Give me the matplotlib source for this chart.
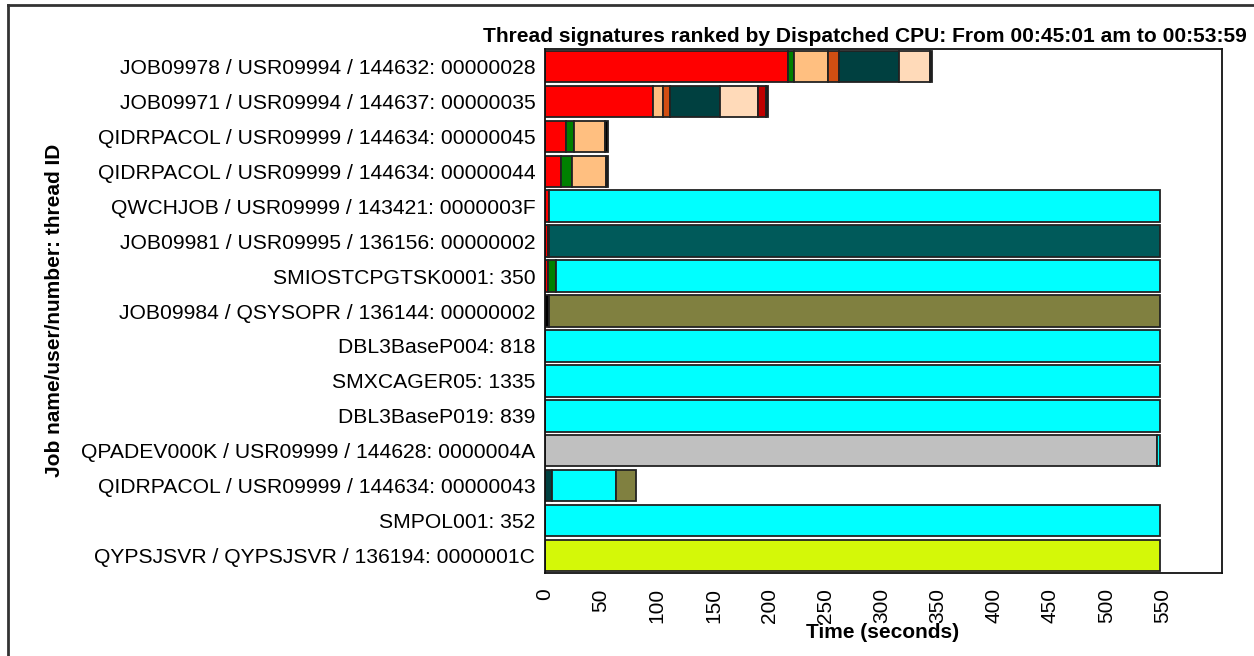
import matplotlib
matplotlib.use("Agg")
import matplotlib.pyplot as plt
from matplotlib.lines import Line2D

plt.rcParams['font.family'] = ['Liberation Sans', 'DejaVu Sans']

categories = [
    "JOB09978 / USR09994 / 144632: 00000028",
    "JOB09971 / USR09994 / 144637: 00000035",
    "QIDRPACOL / USR09999 / 144634: 00000045",
    "QIDRPACOL / USR09999 / 144634: 00000044",
    "QWCHJOB / USR09999 / 143421: 0000003F",
    "JOB09981 / USR09995 / 136156: 00000002",
    "SMIOSTCPGTSK0001: 350",
    "JOB09984 / QSYSOPR / 136144: 00000002",
    "DBL3BaseP004: 818",
    "SMXCAGER05: 1335",
    "DBL3BaseP019: 839",
    "QPADEV000K / USR09999 / 144628: 0000004A",
    "QIDRPACOL / USR09999 / 144634: 00000043",
    "SMPOL001: 352",
    "QYPSJSVR / QYPSJSVR / 136194: 0000001C",
]

# per-row segment durations (seconds) and their colour keys, in stacking order
seg_values = [
    [216, 6, 30, 10, 53, 28, 2],
    [96, 9, 6, 45, 34, 7, 2],
    [19, 7, 27, 3],
    [14, 10, 30, 2],
    [4, 544],
    [2.5, 1, 544.5],
    [2.5, 7, 538.5],
    [4, 544],
    [548],
    [548],
    [548],
    [545, 3],
    [6, 57, 18],
    [548],
    [548],
]
seg_kinds = [
    ["red", "green", "peach", "rust", "teal", "lpeach", "black"],
    ["red", "peach", "rust", "teal", "lpeach", "dred", "black"],
    ["red", "green", "peach", "black"],
    ["red", "green", "peach", "black"],
    ["red", "cyan"],
    ["red", "black", "dteal"],
    ["red", "green", "cyan"],
    ["black", "olive"],
    ["cyan"],
    ["cyan"],
    ["cyan"],
    ["grey", "cyan"],
    ["teal", "cyan", "olive"],
    ["cyan"],
    ["lime"],
]
palette = {
    "red": "#FF0000", "green": "#008000", "peach": "#FFBF80", "rust": "#D24E12",
    "teal": "#004040", "lpeach": "#FFDAB9", "black": "#000000", "dred": "#C00000",
    "cyan": "#00FFFF", "dteal": "#005A5A", "olive": "#808040", "grey": "#C0C0C0",
    "lime": "#D4F808",
}
xticks = list(range(0, 551, 50))

fig = plt.figure(figsize=(12.54, 6.56), dpi=100)
ax = fig.add_axes([545 / 1254, 1 - 573 / 656, (1222 - 545) / 1254, (573 - 49) / 656])

n = len(categories)
for i, (vals, kinds) in enumerate(zip(seg_values, seg_kinds)):
    y = n - 1 - i
    left = 0
    for v, k in zip(vals, kinds):
        ax.barh(y, v, left=left, height=0.9, color=palette[k],
                edgecolor="#222222", linewidth=1.3)
        left += v

ax.set_xlim(0, 603)
ax.set_ylim(-0.5, n - 0.5)
ax.set_yticks(range(n))
ax.set_yticklabels(categories[::-1], fontsize=15.2)
ax.tick_params(axis="y", length=0, pad=7)
ax.set_xticks(xticks)
ax.set_xticklabels([str(t) for t in xticks], rotation=90, fontsize=15)
ax.tick_params(axis="x", length=0, pad=11)
for s in ax.spines.values():
    s.set_linewidth(1.3)
    s.set_color("#111111")

fig.text(883 / 1254, 1 - 632 / 656, "Time (seconds)", fontsize=15, fontweight="bold",
         ha="center", va="center")
fig.text(55 / 1254, 1 - 310 / 656, "Job name/user/number: thread ID", rotation=90,
         fontsize=15, fontweight="bold", ha="center", va="center")
fig.text(1247 / 1254, 1 - 37 / 656,
         "Thread signatures ranked by Dispatched CPU: From 00:45:01 am to 00:53:59",
         fontsize=15.1, fontweight="bold", ha="right", va="center")

# outer frame lines
fig.add_artist(Line2D([8 / 1254, 8 / 1254], [0, 1 - 5 / 656], transform=fig.transFigure,
                      color="#333333", linewidth=2))
fig.add_artist(Line2D([8 / 1254, 1], [1 - 5 / 656, 1 - 5 / 656], transform=fig.transFigure,
                      color="#333333", linewidth=2))

fig.savefig("out.png", dpi=100)
